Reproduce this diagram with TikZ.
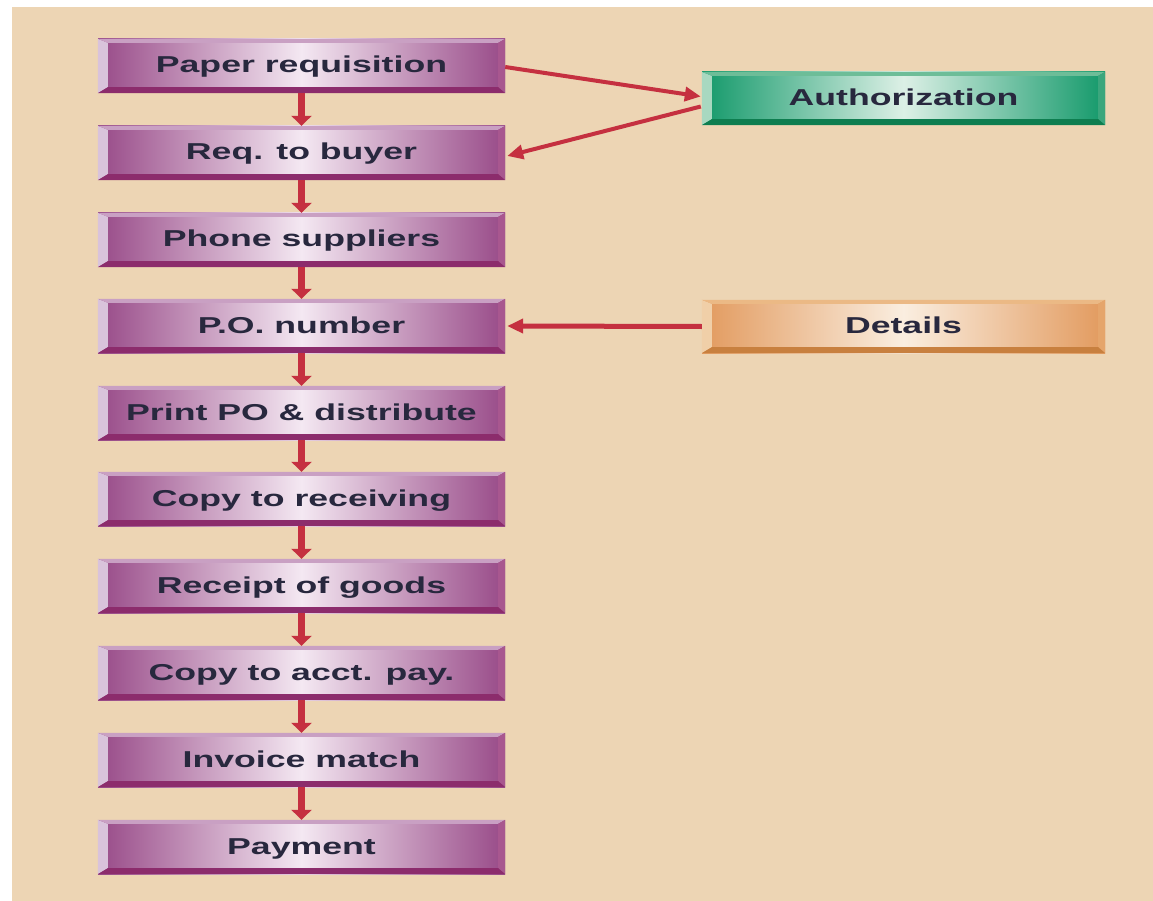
\documentclass[tikz,border=0pt]{standalone}
\usepackage{fontspec}
\newfontfamily\boxfont[FakeStretch=1.55]{Liberation Sans}
\usetikzlibrary{arrows.meta,calc}
\definecolor{bgc}{RGB}{237,213,180}
\definecolor{redc}{RGB}{197,48,64}
\definecolor{txtc}{RGB}{40,40,62}
\definecolor{pdark}{RGB}{152,74,136}
\definecolor{plight}{RGB}{244,232,242}
\definecolor{pl}{RGB}{217,195,219}
\definecolor{pt}{RGB}{201,160,195}
\definecolor{pr}{RGB}{168,87,143}
\definecolor{pb}{RGB}{140,44,108}
\definecolor{gdark}{RGB}{19,153,106}
\definecolor{glight}{RGB}{220,240,230}
\definecolor{gl}{RGB}{168,216,192}
\definecolor{gt}{RGB}{109,189,152}
\definecolor{gr}{RGB}{59,166,125}
\definecolor{gb}{RGB}{14,126,80}
\definecolor{odark}{RGB}{226,154,94}
\definecolor{olight}{RGB}{250,238,224}
\definecolor{ol}{RGB}{240,207,168}
\definecolor{ot}{RGB}{235,185,133}
\definecolor{or}{RGB}{229,165,107}
\definecolor{ob}{RGB}{200,128,63}
\newcommand\bevelbox[5]{%
  \fill[#2] (#1.north west) -- (#1.south west) -- ($(#1.south west)+(10,-6)$) -- ($(#1.north west)+(10,4)$) -- cycle;
  \fill[#3] (#1.north west) -- (#1.north east) -- ($(#1.north east)+(-7,4)$) -- ($(#1.north west)+(10,4)$) -- cycle;
  \fill[#4] (#1.north east) -- (#1.south east) -- ($(#1.south east)+(-7,-6)$) -- ($(#1.north east)+(-7,4)$) -- cycle;
  \fill[#5] (#1.south west) -- (#1.south east) -- ($(#1.south east)+(-7,-6)$) -- ($(#1.south west)+(10,-6)$) -- cycle;
}
\tikzset{
  flowbox/.style={minimum width=407pt, minimum height=54pt, inner sep=0pt,
    text height=18pt, text depth=4pt,
    font=\boxfont\bfseries\fontsize{23}{26}\selectfont, text=txtc},
  pbox/.style={flowbox, left color=pdark, right color=pdark, middle color=plight},
  gbox/.style={flowbox, minimum width=403pt, minimum height=53pt, left color=gdark, right color=gdark, middle color=glight},
  obox/.style={flowbox, minimum width=403pt, minimum height=53pt, left color=odark, right color=odark, middle color=olight},
  varrow/.style={draw=redc, line width=7pt, -{Triangle[width=20pt,length=10pt]}},
  darrow/.style={draw=redc, line width=4pt, -{Triangle[width=14pt,length=16pt]}},
}
\begin{document}
\begin{tikzpicture}[x=1pt,y=-1pt]
\useasboundingbox (0,0) rectangle (1153,901);
\fill[bgc] (12,7) rectangle (1153,901);
\node[pbox] (n1) at (301.5,66) {Paper requisition};
\node[pbox] (n2) at (301.5,153) {Req. to buyer};
\node[pbox] (n3) at (301.5,240) {Phone suppliers};
\node[pbox] (n4) at (301.5,326) {P.O. number};
\node[pbox] (n5) at (301.5,413) {Print PO \& distribute};
\node[pbox] (n6) at (301.5,499) {Copy to receiving};
\node[pbox] (n7) at (301.5,586) {Receipt of goods};
\node[pbox] (n8) at (301.5,673) {Copy to acct. pay.};
\node[pbox] (n9) at (301.5,760) {Invoice match};
\node[pbox] (n10) at (301.5,847) {Payment};
\node[gbox] (auth) at (903.5,98.5) {Authorization};
\node[obox] (det) at (903.5,326.5) {Details};
\foreach \n in {n1,n2,n3,n4,n5,n6,n7,n8,n9,n10}{\bevelbox{\n}{pl}{pt}{pr}{pb}}
\bevelbox{auth}{gl}{gt}{gr}{gb}
\bevelbox{det}{ol}{ot}{or}{ob}
\foreach \a/\b in {n1/n2,n2/n3,n3/n4,n4/n5,n5/n6,n6/n7,n7/n8,n8/n9,n9/n10}{\draw[varrow] (\a.south) -- (\b.north);}
\draw[darrow] ($(n1.east)+(0,1)$) -- ($(auth.west)+(-1,-2)$);
\draw[darrow] ($(auth.west)+(-1,8)$) -- ($(n2.east)+(2,3)$);
\draw[darrow, line width=5pt] (det.west) -- ($(n4.east)+(2,0)$);
\end{tikzpicture}
\end{document}
